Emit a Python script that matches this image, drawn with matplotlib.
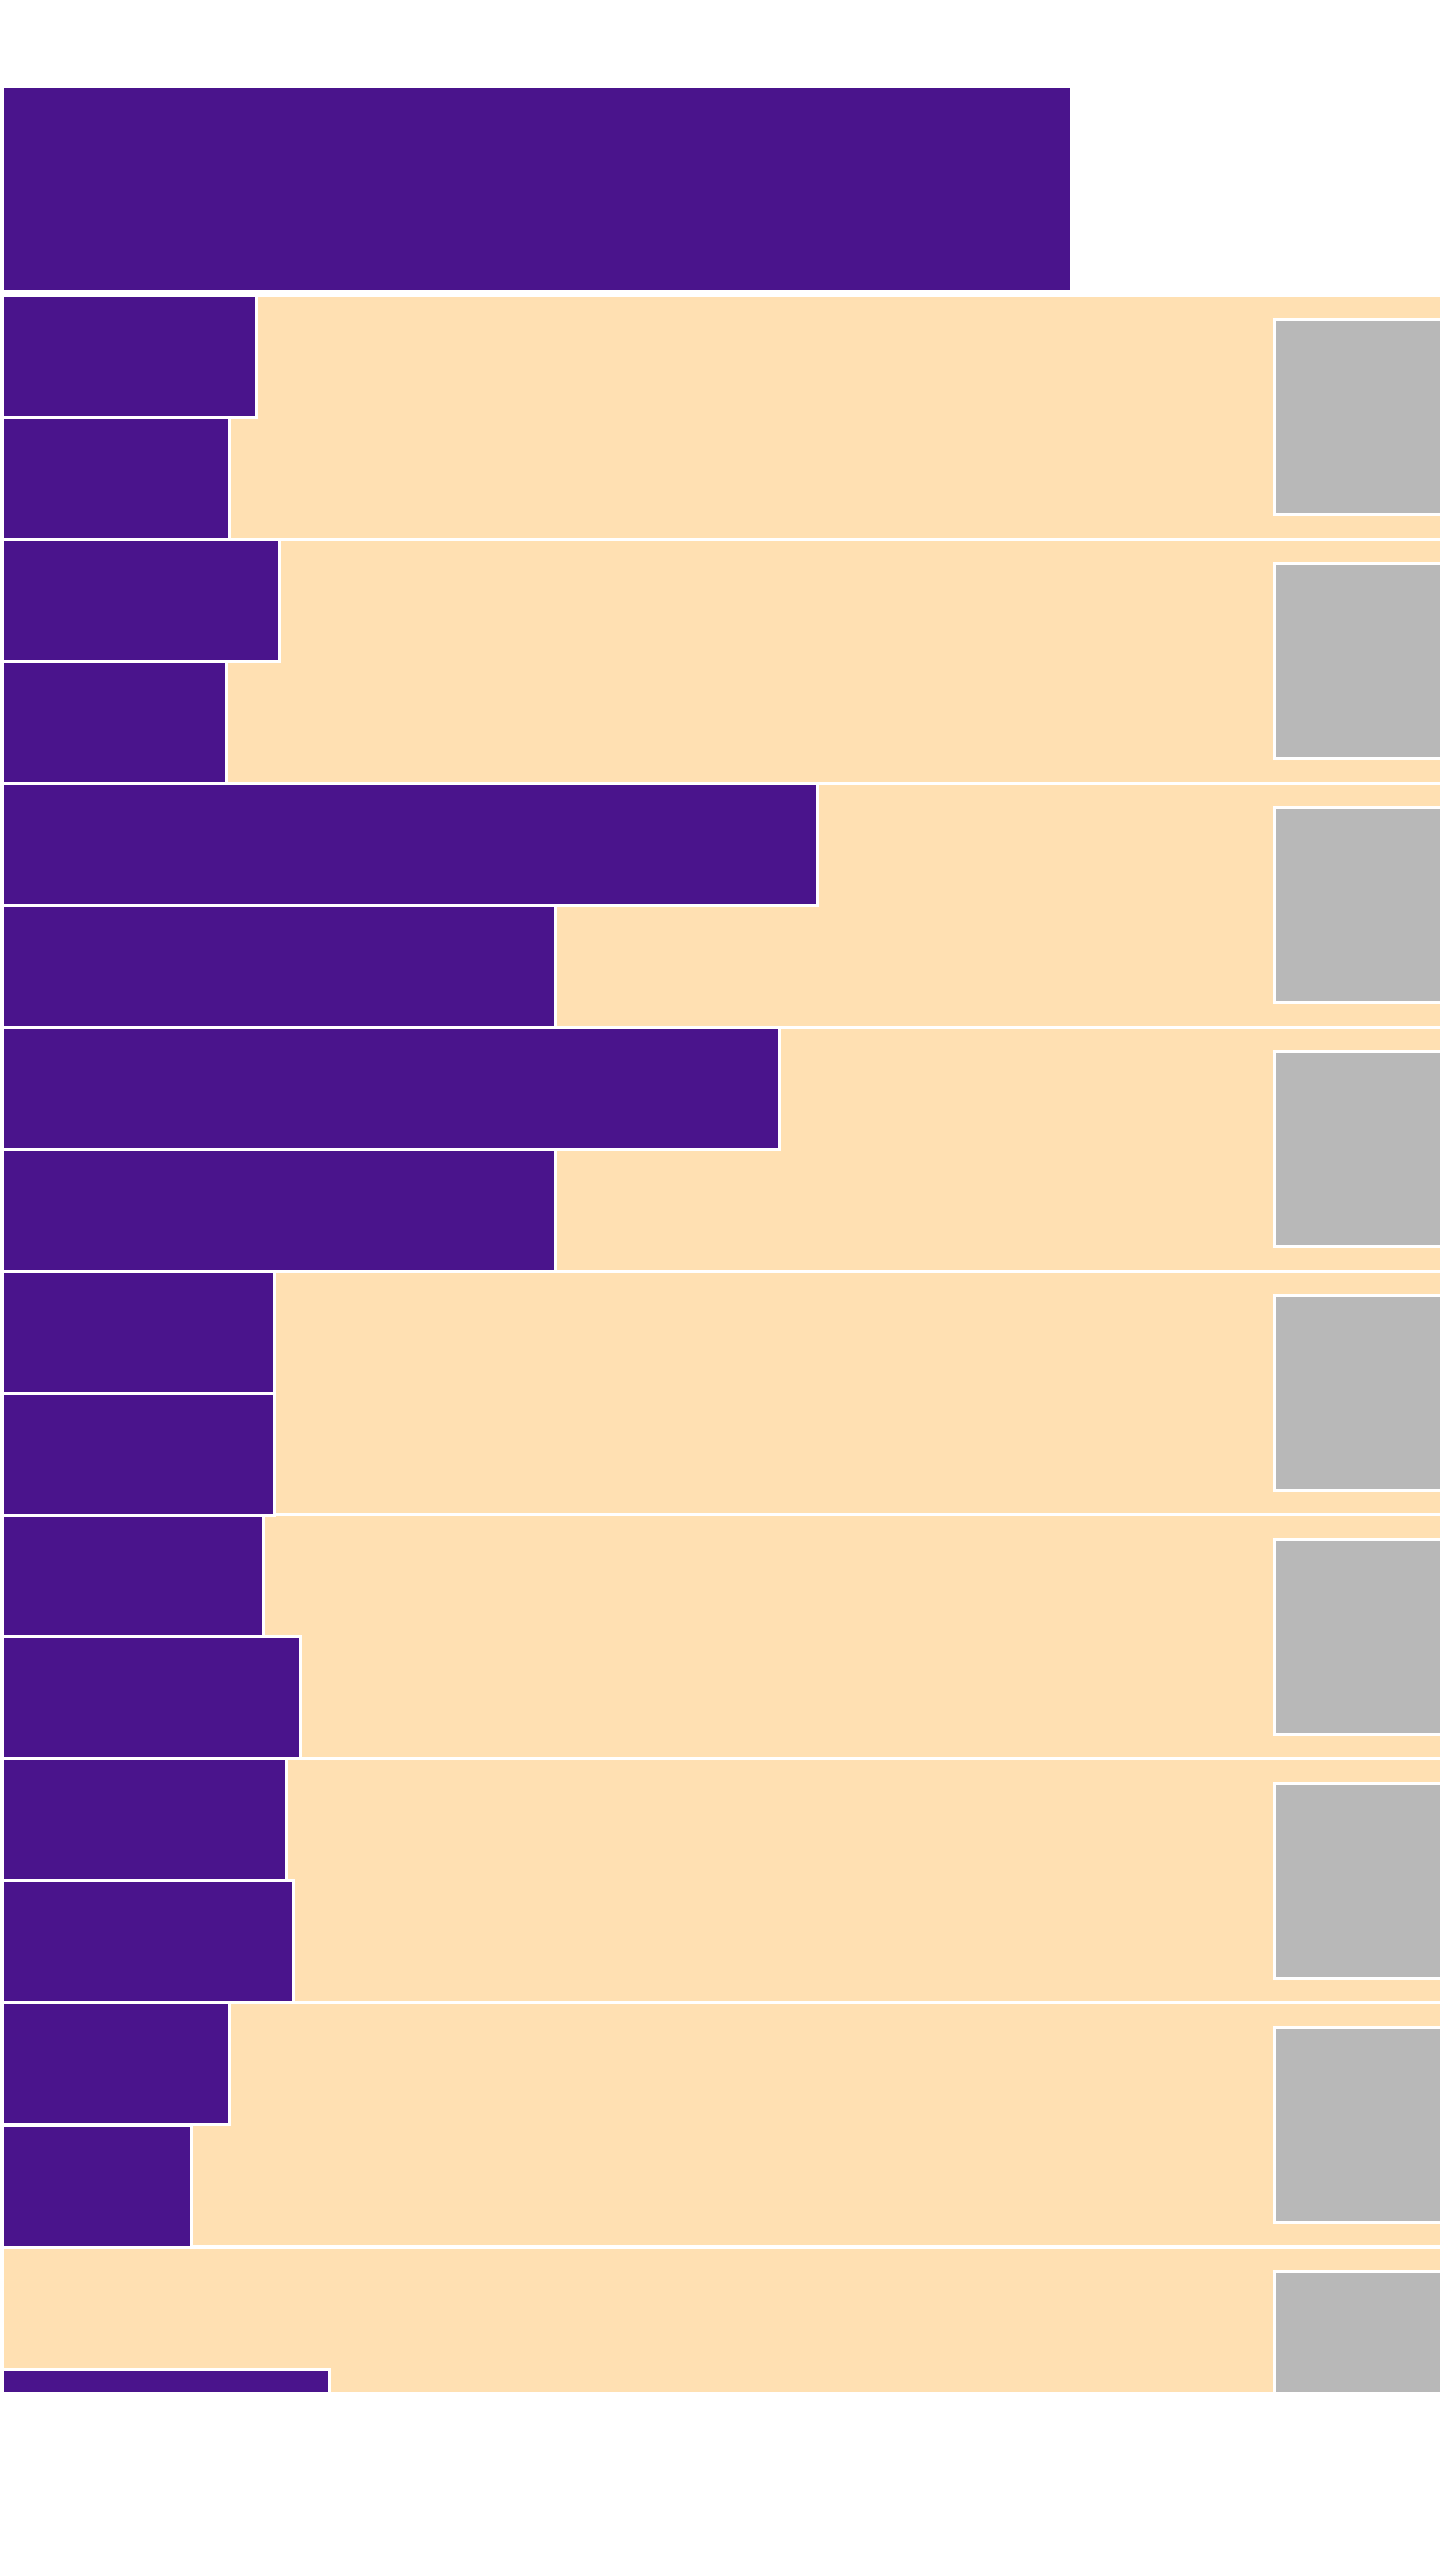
import matplotlib
matplotlib.use("Agg")
import matplotlib.pyplot as plt
import numpy as np

# values (top bar = 100)
total_value = 100.0
first_values = [23.8, 25.9, 76.2, 72.7, 25.5, 24.4, 26.6, 21.3, 0.0]
second_values = [21.3, 21.0, 51.7, 51.7, 25.5, 27.9, 27.2, 17.7, 30.6]
band_value = 150.0
label_left = 118.9
label_width = 30.0

PURPLE = "#4A148C"
PEACH = "#FFE0B2"
GRAY = "#B8B8B8"
EDGE = 2.16  # ~3 px at 100 dpi

fig = plt.figure(figsize=(14.4, 25.6), dpi=100)
ax = fig.add_axes([0, (2560 - 2392) / 2560, 1, 2392 / 2560])

groups = np.arange(len(first_values))

# background bands, one per group
ax.barh(groups, band_value, height=1.0, left=0, color=PEACH,
        edgecolor="white", linewidth=EDGE)

# two bars per group
ax.barh(groups - 0.25, first_values, height=0.5, color=PURPLE,
        edgecolor="white", linewidth=EDGE)
ax.barh(groups + 0.25, second_values, height=0.5, color=PURPLE,
        edgecolor="white", linewidth=EDGE)

# top summary bar
ax.barh([-0.936], [total_value], height=0.84, color=PURPLE,
        edgecolor="white", linewidth=EDGE)

# grey label boxes on the right
ax.barh(groups, label_width, height=0.803, left=label_left, color=GRAY,
        edgecolor="white", linewidth=EDGE)

px = 10.7
ax.set_xlim(-1.5 / px, 1438.5 / px)
ax.set_ylim((2392 - 416.5) / 244, (0 - 416.5) / 244)
ax.axis("off")

fig.savefig("out.png", dpi=100)
